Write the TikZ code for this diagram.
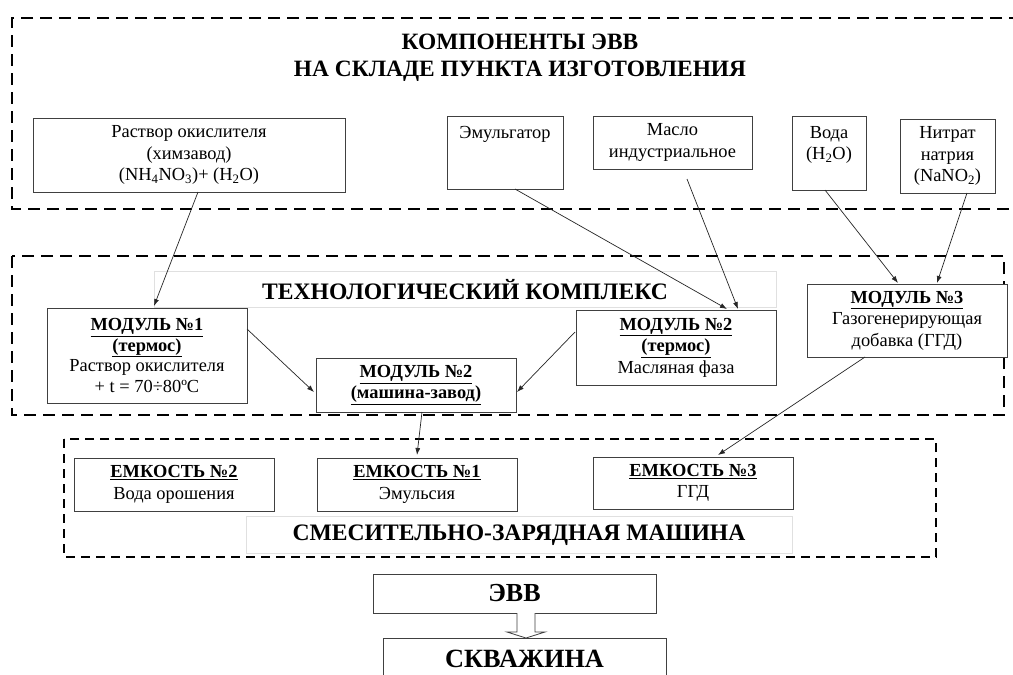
\documentclass[tikz,border=0pt]{standalone}
\usepackage{fontspec}
\setmainfont{Liberation Serif}
\usetikzlibrary{arrows.meta,calc}
\newcommand\mhead[1]{\underline{\textbf{#1}}}
\tikzset{
  box/.style={draw=black!75, line width=0.9pt, fill=white, anchor=north west, inner sep=0pt, outer sep=0pt, align=center, font=\fontsize{18.4}{21.5}\selectfont},
  txt/.style={inner sep=0pt, align=center, font=\fontsize{18.4}{21.5}\selectfont},
  group/.style={draw=black, line width=2.6pt, dash pattern=on 12pt off 7pt},
  group3/.style={draw=black, line width=2.3pt, dash pattern=on 9pt off 6pt},
  backdrop/.style={draw=black!12, line width=0.8pt, fill=white},
  title/.style={inner sep=0pt, align=center, font=\fontsize{23.4}{27}\selectfont\bfseries},
  bigtitle/.style={inner sep=0pt, align=center, font=\fontsize{23.6}{27}\selectfont\bfseries},
  conn/.style={-{Latex[length=7pt,width=5pt]}, line width=0.7pt, draw=black!85},
}
\begin{document}
\begin{tikzpicture}[x=1pt,y=-1pt]
\useasboundingbox (0,0) rectangle (1013,675);
\fill[white] (0,0) rectangle (1013,675);

% containers
\draw[group] (1040,18) -- (12,18) -- (12,209) -- (1040,209);
\draw[group] (12,256) rectangle (1004,415);
\draw[group3] (64,439) rectangle (936,557);

% title backdrops
\draw[backdrop] (154,271) rectangle (776,307);
\draw[backdrop] (246,516) rectangle (792,553);

% titles
\node[title] (t1) at (520,58) {КОМПОНЕНТЫ ЭВВ\\НА СКЛАДЕ ПУНКТА ИЗГОТОВЛЕНИЯ};
\node[bigtitle] (t2) at (465,290) {ТЕХНОЛОГИЧЕСКИЙ КОМПЛЕКС};
\node[bigtitle] (t3) at (519,535) {СМЕСИТЕЛЬНО-ЗАРЯДНАЯ МАШИНА};

% top components
\node[box, minimum width=312, minimum height=74] (rastvor) at (33,118)
  {Раствор окислителя\\(химзавод)\\(NH\textsubscript{4}NO\textsubscript{3})+ (H\textsubscript{2}O)};
\node[box, minimum width=116, minimum height=73] (emul) at (447,116) {};
\node[txt] (emult) at ($(emul.north)+(0,18)$) {Эмульгатор};
\node[box, minimum width=159, minimum height=53] (maslo) at (593,116) {Масло\\индустриальное};
\node[box, minimum width=74, minimum height=74] (voda) at (792,116) {};
\node[txt] (vodat) at ($(voda.north)+(0,29)$) {Вода\\(H\textsubscript{2}O)};
\node[box, minimum width=95, minimum height=74] (nitrat) at (900,119) {Нитрат\\натрия\\(NaNO\textsubscript{2})};

% modules
\node[box, minimum width=200, minimum height=95, font=\fontsize{18.4}{20.5}\selectfont] (mod1) at (47,308)
  {\mhead{МОДУЛЬ №1}\\\mhead{(термос)}\\Раствор окислителя\\+ t = 70÷80ºC};
\node[box, minimum width=200, minimum height=54] (mod2m) at (316,358)
  {\mhead{МОДУЛЬ №2}\\\mhead{(машина-завод)}};
\node[box, minimum width=200, minimum height=75] (mod2t) at (576,310)
  {\mhead{МОДУЛЬ №2}\\\mhead{(термос)}\\Масляная фаза};
\node[box, minimum width=200, minimum height=73] (mod3) at (807,284)
  {\mhead{МОДУЛЬ №3}\\Газогенерирующая\\добавка (ГГД)};

% tanks
\node[box, minimum width=200, minimum height=53] (emk2) at (74,458) {\mhead{ЕМКОСТЬ №2}\\Вода орошения};
\node[box, minimum width=200, minimum height=53] (emk1) at (317,458) {\mhead{ЕМКОСТЬ №1}\\Эмульсия};
\node[box, minimum width=200, minimum height=52] (emk3) at (593,457) {\mhead{ЕМКОСТЬ №3}\\ГГД};

% result
\node[box, minimum width=283, minimum height=39, font=\fontsize{26}{30}\selectfont\bfseries] (evv) at (373,574) {ЭВВ};
\node[box, minimum width=283, minimum height=60] (skv) at (383,638) {};
\node[inner sep=0pt, font=\fontsize{26.3}{30}\selectfont\bfseries] (skvt) at ($(skv.north)+(0,21)$) {СКВАЖИНА};

% block arrow
\draw[draw=black!75, line width=0.8pt, fill=white]
  ($(evv.south)+(2.5,0)$) -- ++(0,19) -- ++(-10,0) -- ($(skv.north)+(1.5,0)$) -- ++(19,-6) -- ++(-10,0) -- ($(evv.south)+(20.5,0)$);

% connectors
\draw[conn] ($(rastvor.south west)+(165,0)$) -- ($(mod1.north west)+(107,-2)$);
\draw[conn] ($(emul.south west)+(68,0)$) -- ($(mod2t.north west)+(151,-1)$);
\draw[conn] ($(maslo.south west)+(94,10)$) -- ($(mod2t.north west)+(162,-1)$);
\draw[conn] ($(voda.south west)+(33,0)$) -- ($(mod3.north west)+(91,-1)$);
\draw[conn] ($(nitrat.south west)+(67,0)$) -- ($(mod3.north west)+(130,-1)$);
\draw[conn] ($(mod1.north east)+(0,21)$) -- ($(mod2m.north west)+(-2,34)$);
\draw[conn] ($(mod2t.north west)+(-1,22)$) -- ($(mod2m.north east)+(1,34)$);
\draw[conn] ($(mod2m.south west)+(106,0)$) -- ($(emk1.north west)+(100,-3)$);
\draw[conn] ($(mod3.south west)+(58,0)$) -- ($(emk3.north west)+(125,-2)$);
\end{tikzpicture}
\end{document}
